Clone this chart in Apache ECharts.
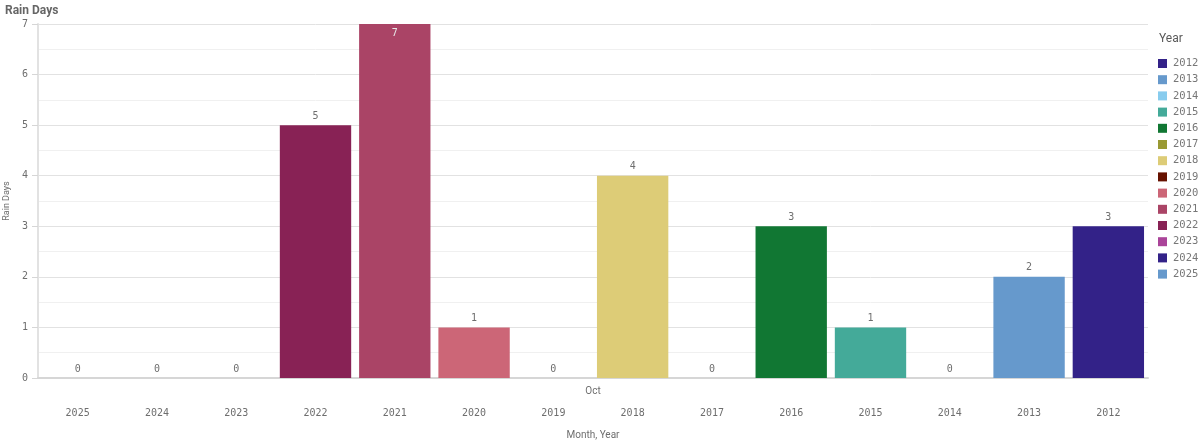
<!DOCTYPE html>
<html>
<head>
<meta charset="utf-8">
<script src="https://cdn.jsdelivr.net/npm/echarts@6/dist/echarts.min.js"></script>
<style>
  html, body { margin: 0; padding: 0; background: #fff; }
  #chart { width: 1200px; height: 442px; }
</style>
</head>
<body>
<div id="chart"></div>
<script>
const years = ['2025', '2024', '2023', '2022', '2021', '2020', '2019', '2018', '2017', '2016', '2015', '2014', '2013', '2012']
const rainDays = [0, 0, 0, 5, 7, 1, 0, 4, 0, 3, 1, 0, 2, 3]
const legendYears = ['2012', '2013', '2014', '2015', '2016', '2017', '2018', '2019', '2020', '2021', '2022', '2023', '2024', '2025']
const yearColors = ['#332288', '#6699cc', '#88ccee', '#44aa99', '#117733', '#999933', '#ddcc77', '#661100', '#cc6677', '#aa4466', '#882255', '#aa4499', '#332288', '#6699cc']
const months = ['Oct']

const mono = '"DejaVu Sans Mono", monospace'

const seriesList = legendYears.map((yr, i) => {
    const data = years.map((y, j) => {
        if (y !== yr) return '-'
        const v = rainDays[j]
        return {
            value: v,
            label: v >= 7 ? { position: 'insideTop', color: '#e8e8e8' } : { position: 'top' }
        }
    })
    return {
        name: yr,
        type: 'bar',
        stack: 'all',
        barCategoryGap: '10%',
        itemStyle: { color: yearColors[i] },
        label: {
            show: true,
            fontFamily: mono,
            fontSize: 10,
            color: '#6e6e6e',
            distance: 4
        },
        data: data
    }
})

const myChart = echarts.init(document.getElementById('chart'))
const option = {
    animation: false,
    title: [
        {
            text: 'Rain Days',
            left: 0,
            top: 0,
            textStyle: { fontFamily: 'Roboto', fontSize: 12, fontWeight: 'bold', color: '#666' }
        },
        {
            text: 'Year',
            left: 1154,
            top: 28,
            textStyle: { fontFamily: 'Roboto', fontSize: 12, fontWeight: 'normal', color: '#595959' }
        }
    ],
    legend: {
        orient: 'vertical',
        left: 1153,
        top: 53,
        itemWidth: 9,
        itemHeight: 9,
        itemGap: 5.2,
        icon: 'rect',
        data: legendYears,
        textStyle: { fontFamily: mono, fontSize: 10.5, lineHeight: 9, color: '#777', padding: [0, 0, 0, 1] }
    },
    grid: {
        left: 38,
        right: 52,
        top: 24,
        bottom: 64,
        outerBoundsMode: 'none'
    },
    xAxis: [
        {
            type: 'category',
            data: years,
            position: 'bottom',
            axisLine: { lineStyle: { color: '#d6d6d6', width: 2 } },
            axisTick: { show: false },
            axisLabel: { fontFamily: mono, fontSize: 10, color: '#6e6e6e', margin: 30 },
            name: 'Month, Year',
            nameLocation: 'middle',
            nameGap: 52,
            nameTextStyle: { fontFamily: 'Roboto', fontSize: 10, color: '#6e6e6e' }
        },
        {
            type: 'category',
            data: months,
            position: 'bottom',
            axisLine: { show: false },
            axisTick: { show: false },
            axisLabel: { fontFamily: 'Roboto', fontSize: 10, color: '#6e6e6e', margin: 8 }
        }
    ],
    yAxis: {
        type: 'value',
        min: 0,
        max: 7,
        interval: 1,
        name: 'Rain Days',
        nameLocation: 'middle',
        nameGap: 26,
        nameTextStyle: { fontFamily: 'Roboto', fontSize: 9, color: '#6e6e6e' },
        axisLine: { show: true, lineStyle: { color: '#e2e2e2', width: 2 } },
        axisTick: { show: true, length: 6, lineStyle: { color: '#d6d6d6' } },
        axisLabel: { fontFamily: mono, fontSize: 10, color: '#6e6e6e', margin: 10 },
        splitLine: { lineStyle: { color: '#e2e2e2' } },
        minorTick: { show: false, splitNumber: 2 },
        minorSplitLine: { show: true, lineStyle: { color: '#f0f0f0' } }
    },
    series: seriesList
}
option && myChart.setOption(option)
</script>
</body>
</html>
